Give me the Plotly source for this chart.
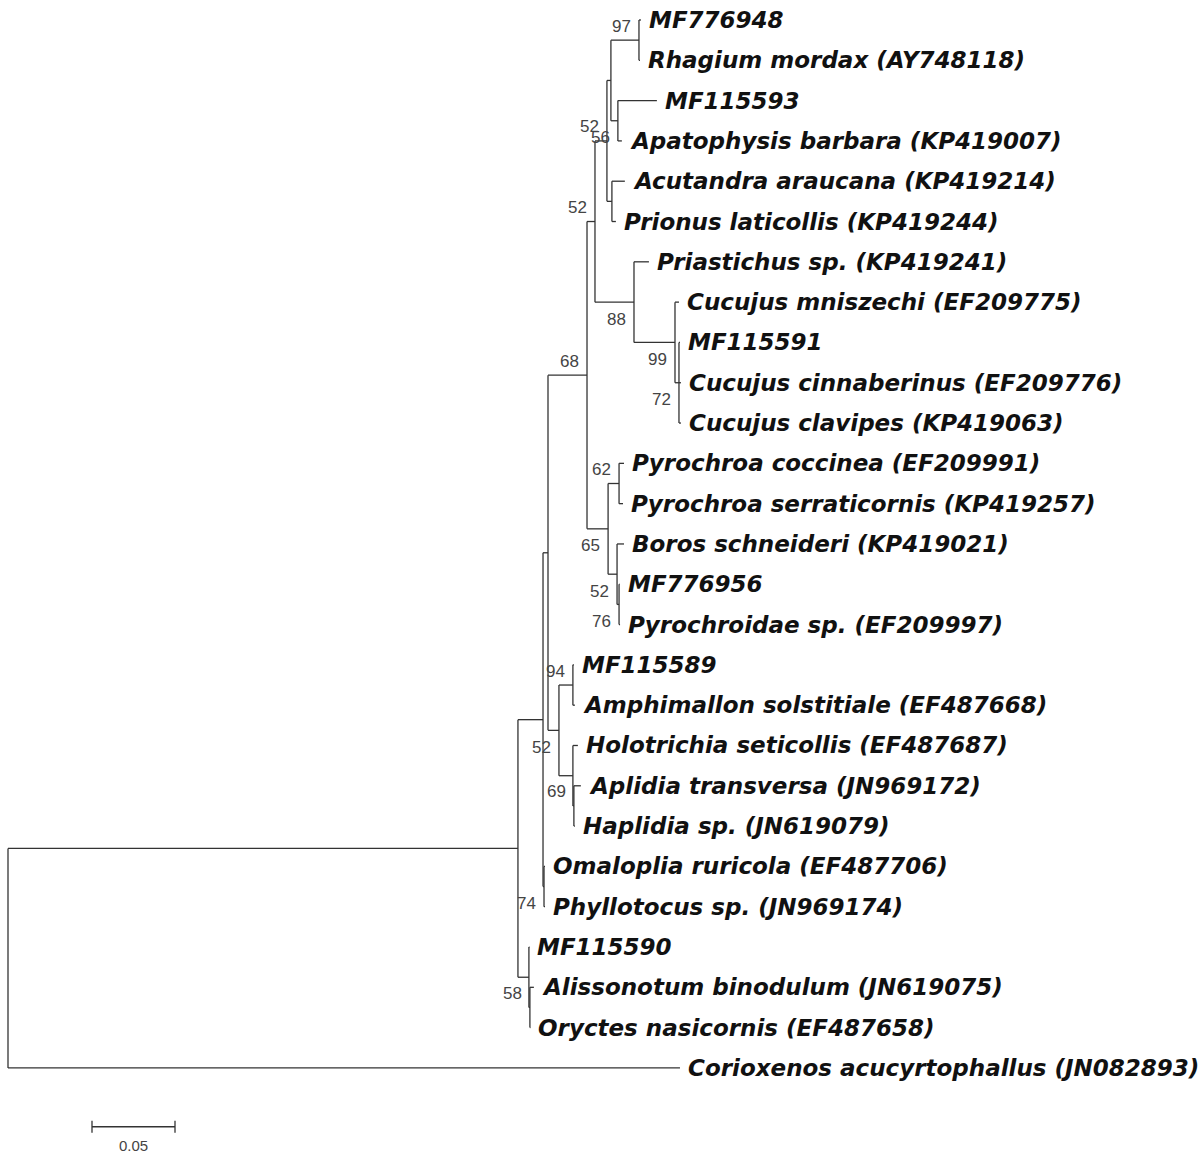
import plotly.graph_objects as go

# Neighbour-joining tree: every node, its parent, branch length (substitutions/site)
NODE = [
    "root", "ingroup", "Corioxenos acucyrtophallus (JN082893)",
    "n_u", "n_w", "n_s", "n_74", "n_68", "n_t52", "n_q52", "n_a52", "n_p",
    "n_97", "MF776948", "Rhagium mordax (AY748118)",
    "n_56", "MF115593", "Apatophysis barbara (KP419007)",
    "n_ap", "Acutandra araucana (KP419214)", "Prionus laticollis (KP419244)",
    "n_88", "Priastichus sp. (KP419241)", "n_99", "Cucujus mniszechi (EF209775)",
    "n_72", "MF115591", "Cucujus cinnaberinus (EF209776)", "Cucujus clavipes (KP419063)",
    "n_65", "n_62", "Pyrochroa coccinea (EF209991)", "Pyrochroa serraticornis (KP419257)",
    "n_x52", "Boros schneideri (KP419021)", "n_76", "MF776956", "Pyrochroidae sp. (EF209997)",
    "n_94", "MF115589", "Amphimallon solstitiale (EF487668)",
    "n_h", "Holotrichia seticollis (EF487687)", "n_69",
    "Aplidia transversa (JN969172)", "Haplidia sp. (JN619079)",
    "Omaloplia ruricola (EF487706)", "Phyllotocus sp. (JN969174)",
    "MF115590", "n_58", "Alissonotum binodulum (JN619075)", "Oryctes nasicornis (EF487658)",
]
PARENT = [
    None, "root", "root",
    "ingroup", "ingroup", "n_u", "n_u", "n_s", "n_s", "n_68", "n_q52", "n_a52",
    "n_p", "n_97", "n_97",
    "n_p", "n_56", "n_56",
    "n_a52", "n_ap", "n_ap",
    "n_q52", "n_88", "n_88", "n_99",
    "n_99", "n_72", "n_72", "n_72",
    "n_68", "n_65", "n_62", "n_62",
    "n_65", "n_x52", "n_x52", "n_76", "n_76",
    "n_t52", "n_94", "n_94",
    "n_t52", "n_h", "n_h",
    "n_69", "n_69",
    "n_74", "n_74",
    "n_w", "n_w", "n_58", "n_58",
]
LENGTH = [
    0.0, 0.3072, 0.4048,
    0.0151, 0.0066, 0.0030, 0.0006, 0.0235, 0.0066, 0.0048, 0.0072, 0.0024,
    0.0169, 0.0012, 0.0006,
    0.0042, 0.0235, 0.0024,
    0.0030, 0.0078, 0.0024,
    0.0235, 0.0090, 0.0247, 0.0024,
    0.0024, 0.0006, 0.0012, 0.0012,
    0.0127, 0.0066, 0.0030, 0.0024,
    0.0054, 0.0042, 0.0012, 0.0003, 0.0006,
    0.0084, 0.0006, 0.0012,
    0.0084, 0.0030, 0.0006,
    0.0042, 0.0006,
    0.0006, 0.0006,
    0.0003, 0.0006, 0.0024, 0.0003,
]

# Bootstrap support (%) for internal nodes, and which side of the stem it sits on
SUPPORT_NODE = ["n_97", "n_a52", "n_56", "n_q52", "n_88", "n_99", "n_72", "n_68",
                "n_62", "n_65", "n_x52", "n_76", "n_94", "n_t52", "n_69", "n_74", "n_58"]
SUPPORT_VALUE = [97, 52, 56, 52, 88, 99, 72, 68, 62, 65, 52, 76, 94, 52, 69, 74, 58]
SUPPORT_SIDE = ["above", "above", "below", "above", "below", "below", "below", "above",
                "above", "below", "below", "below", "above", "below", "above", "below", "above"]

SCALE_BAR = 0.05

# ---- layout of the tree -------------------------------------------------------
children = {n: [] for n in NODE}
for n, p in zip(NODE, PARENT):
    if p is not None:
        children[p].append(n)
blen = dict(zip(NODE, LENGTH))

depth, ypos = {}, {}
leaves = []


def place(node, d):
    depth[node] = d
    kids = children[node]
    if not kids:
        ypos[node] = len(leaves)
        leaves.append(node)
        return
    for k in kids:
        place(k, d + blen[k])
    ypos[node] = (ypos[kids[0]] + ypos[kids[-1]]) / 2.0


place("root", 0.0)

xs, ys = [], []
for n, p in zip(NODE, PARENT):
    if p is not None:  # horizontal branch
        xs += [depth[p], depth[n], None]
        ys += [ypos[n], ypos[n], None]
    kids = children[n]
    if kids:  # vertical connector
        xs += [depth[n], depth[n], None]
        ys += [ypos[kids[0]], ypos[kids[-1]], None]

LINE = "#333333"
fig = go.Figure()
fig.add_trace(go.Scatter(x=xs, y=ys, mode="lines",
                         line=dict(color=LINE, width=1.3),
                         hoverinfo="skip"))

annotations = []
for leaf in leaves:
    annotations.append(dict(
        x=depth[leaf], y=ypos[leaf], xref="x", yref="y",
        text=f"<b><i>{leaf}</i></b>", showarrow=False,
        xanchor="left", yanchor="middle", xshift=6,
        font=dict(family="DejaVu Sans, sans-serif", size=23, color="#111111"),
    ))

for node, val, side in zip(SUPPORT_NODE, SUPPORT_VALUE, SUPPORT_SIDE):
    annotations.append(dict(
        x=depth[node], y=ypos[node], xref="x", yref="y",
        text=str(val), showarrow=False,
        xanchor="right", yanchor="middle", xshift=-6,
        yshift=14 if side == "above" else -17,
        font=dict(family="Liberation Sans, Arial, sans-serif", size=17, color="#444444"),
    ))

# scale bar
sb_x0 = 0.0506
sb_y = 27.46
fig.add_trace(go.Scatter(
    x=[sb_x0, sb_x0 + SCALE_BAR, None, sb_x0, sb_x0, None, sb_x0 + SCALE_BAR, sb_x0 + SCALE_BAR],
    y=[sb_y, sb_y, None, sb_y - 0.15, sb_y + 0.15, None, sb_y - 0.15, sb_y + 0.15],
    mode="lines", line=dict(color=LINE, width=1.3), hoverinfo="skip"))
annotations.append(dict(
    x=sb_x0 + SCALE_BAR / 2, y=sb_y, xref="x", yref="y", text=str(SCALE_BAR),
    showarrow=False, xanchor="center", yanchor="top", yshift=-8,
    font=dict(family="Liberation Sans, Arial, sans-serif", size=15, color="#444444"),
))

px_per_unit = 1660.0
fig.update_layout(
    width=1203, height=1157,
    margin=dict(l=0, r=0, t=0, b=0),
    paper_bgcolor="white", plot_bgcolor="white",
    showlegend=False,
    annotations=annotations,
    xaxis=dict(visible=False, range=[-8 / px_per_unit, 1195 / px_per_unit]),
    yaxis=dict(visible=False, range=[28.21, -0.496]),
)

fig.write_html("out.html")
